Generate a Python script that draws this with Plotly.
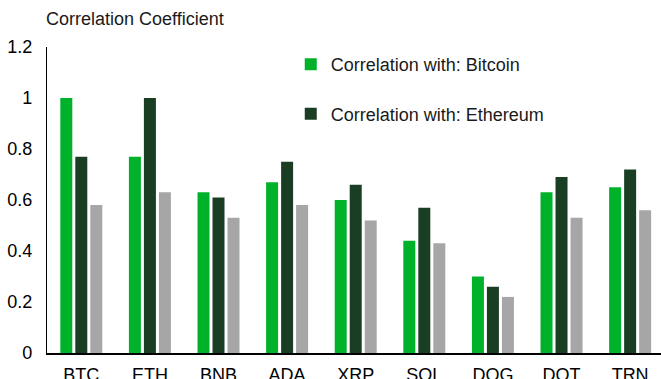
import plotly.graph_objects as go

categories = ["BTC", "ETH", "BNB", "ADA", "XRP", "SOL", "DOG", "DOT", "TRN"]
corr_bitcoin = [1.00, 0.77, 0.63, 0.67, 0.60, 0.44, 0.30, 0.63, 0.65]
corr_ethereum = [0.77, 1.00, 0.61, 0.75, 0.66, 0.57, 0.26, 0.69, 0.72]
corr_third = [0.58, 0.63, 0.53, 0.58, 0.52, 0.43, 0.22, 0.53, 0.56]
y_ticks = [0, 0.2, 0.4, 0.6, 0.8, 1, 1.2]
y_tick_labels = ["0", "0.2", "0.4", "0.6", "0.8", "1", "1.2"]

FONT = "Liberation Sans, Arial, sans-serif"

fig = go.Figure()
fig.add_trace(go.Bar(x=categories, y=corr_bitcoin, name="Correlation with: Bitcoin",
                     marker=dict(color="#00B22A", line=dict(width=0)), legendgroup="a"))
fig.add_trace(go.Bar(x=categories, y=corr_ethereum, name="Correlation with: Ethereum",
                     marker=dict(color="#1A3E24", line=dict(width=0)), legendgroup="b"))
fig.add_trace(go.Bar(x=categories, y=corr_third, name="Correlation with: Other",
                     marker=dict(color="#A6A6A6", line=dict(width=0)), legendgroup="c",
                     showlegend=False))

fig.update_layout(
    width=661, height=379,
    margin=dict(l=47, r=0, t=47, b=26),
    paper_bgcolor="white", plot_bgcolor="white",
    font=dict(family=FONT, size=18, color="#000000"),
    barmode="group", bargap=0.344, bargroupgap=0.2,
    showlegend=True,
    legend=dict(x=0.397, y=1.003, xanchor="left", yanchor="top",
                bgcolor="rgba(0,0,0,0)", font=dict(size=18, color="#1a1a1a"),
                traceorder="grouped", tracegroupgap=23, itemwidth=30),
    xaxis=dict(range=[-0.5, 8.45], showgrid=False, showline=True, linecolor="black",
               linewidth=2, ticks="", tickfont=dict(size=18), ticklabelstandoff=4,
               automargin=False),
    yaxis=dict(range=[0, 1.2], tickvals=y_ticks, ticktext=y_tick_labels, showgrid=False,
               zeroline=False, showline=True, linecolor="black", linewidth=1.3, ticks="",
               tickfont=dict(size=18), ticklabelstandoff=10, automargin=False),
    annotations=[dict(text="Correlation Coefficient", xref="paper", yref="paper",
                      x=0, y=1.0, xshift=-3, yshift=28, xanchor="left", yanchor="middle",
                      showarrow=False, font=dict(size=18, color="#1a1a1a"))],
)

fig.write_html("out.html")
